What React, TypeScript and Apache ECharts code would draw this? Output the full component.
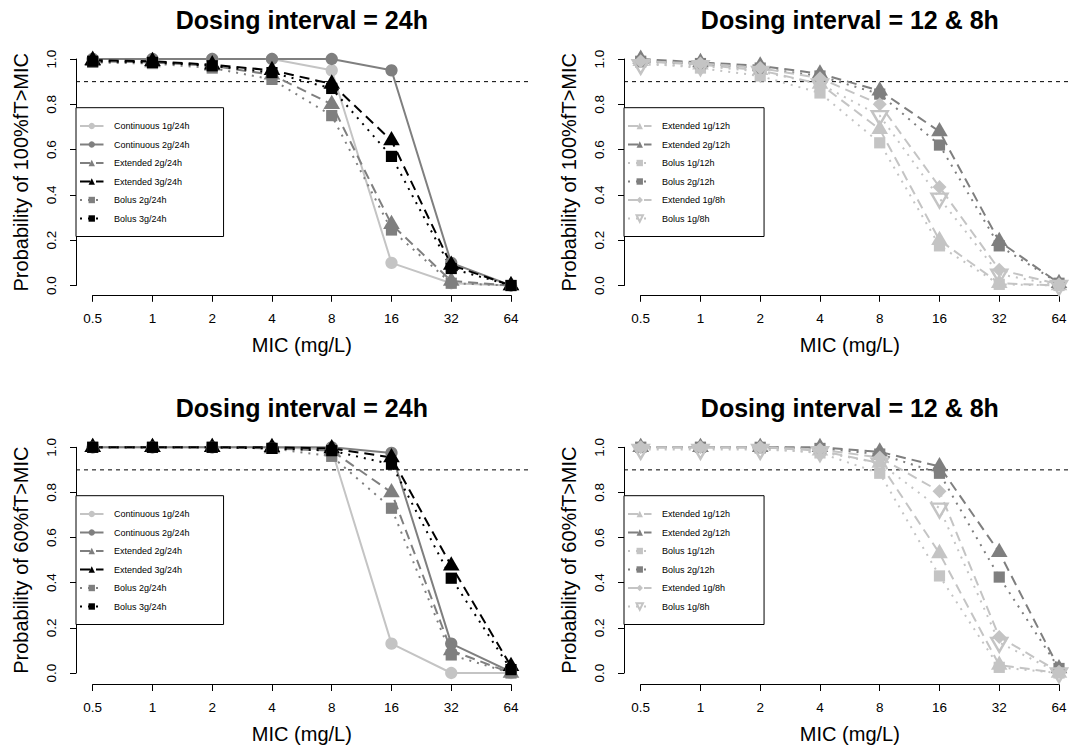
import React, { useEffect, useRef } from "react";
import * as echarts from "echarts";

// ---------- data ----------
const micLabels = ["0.5", "1", "2", "4", "8", "16", "32", "64"];
const target = 0.9;
const refExtent = [0, 1];

const names24 = [
  "Continuous 1g/24h",
  "Continuous 2g/24h",
  "Extended 2g/24h",
  "Extended 3g/24h",
  "Bolus 2g/24h",
  "Bolus 3g/24h",
];
const names12 = [
  "Extended 1g/12h",
  "Extended 2g/12h",
  "Bolus 1g/12h",
  "Bolus 2g/12h",
  "Extended 1g/8h",
  "Bolus 1g/8h",
];

// 100% fT>MIC, 24h
const p100_cont1g24 = [1.0, 1.0, 1.0, 1.0, 0.95, 0.1, 0.01, 0.0];
const p100_cont2g24 = [1.0, 1.0, 1.0, 1.0, 1.0, 0.95, 0.1, 0.0];
const p100_ext2g24 = [0.99, 0.985, 0.97, 0.93, 0.8, 0.27, 0.02, 0.0];
const p100_ext3g24 = [0.995, 0.99, 0.975, 0.95, 0.89, 0.64, 0.09, 0.0];
const p100_bol2g24 = [0.985, 0.98, 0.96, 0.91, 0.75, 0.245, 0.01, 0.0];
const p100_bol3g24 = [0.99, 0.985, 0.97, 0.94, 0.87, 0.57, 0.075, 0.0];

// 100% fT>MIC, 12h & 8h
const p100_ext1g12 = [0.99, 0.975, 0.95, 0.89, 0.69, 0.2, 0.01, 0.0];
const p100_ext2g12 = [1.0, 0.985, 0.97, 0.935, 0.86, 0.68, 0.195, 0.01];
const p100_bol1g12 = [0.985, 0.96, 0.925, 0.85, 0.63, 0.175, 0.005, 0.0];
const p100_bol2g12 = [0.99, 0.98, 0.96, 0.925, 0.845, 0.62, 0.175, 0.01];
const p100_ext1g8 = [0.99, 0.98, 0.96, 0.915, 0.8, 0.435, 0.07, 0.005];
const p100_bol1g8 = [0.975, 0.97, 0.945, 0.89, 0.75, 0.385, 0.05, 0.0];

// 60% fT>MIC, 24h
const p60_cont1g24 = [1.0, 1.0, 1.0, 1.0, 0.99, 0.13, 0.0, 0.0];
const p60_cont2g24 = [1.0, 1.0, 1.0, 1.0, 1.0, 0.975, 0.13, 0.005];
const p60_ext2g24 = [1.0, 1.0, 1.0, 0.995, 0.985, 0.8, 0.1, 0.0];
const p60_ext3g24 = [1.0, 1.0, 1.0, 1.0, 0.995, 0.955, 0.475, 0.03];
const p60_bol2g24 = [1.0, 1.0, 1.0, 0.995, 0.96, 0.73, 0.08, 0.0];
const p60_bol3g24 = [1.0, 1.0, 1.0, 0.995, 0.985, 0.925, 0.42, 0.015];

// 60% fT>MIC, 12h & 8h
const p60_ext1g12 = [1.0, 1.0, 1.0, 0.985, 0.93, 0.53, 0.035, 0.0];
const p60_ext2g12 = [1.0, 1.0, 1.0, 1.0, 0.98, 0.915, 0.535, 0.02];
const p60_bol1g12 = [1.0, 1.0, 0.995, 0.975, 0.885, 0.43, 0.025, 0.0];
const p60_bol2g12 = [1.0, 1.0, 1.0, 0.995, 0.97, 0.885, 0.425, 0.02];
const p60_ext1g8 = [1.0, 1.0, 1.0, 0.99, 0.955, 0.805, 0.16, 0.005];
const p60_bol1g8 = [0.99, 0.99, 0.99, 0.98, 0.93, 0.73, 0.135, 0.0];

// ---------- styles ----------
const FONT = "'Liberation Sans', Arial, Helvetica, sans-serif";
const LG = "#c4c4c4";
const MG = "#7f7f7f";
const BK = "#000000";
const SOLID: any = "solid";
const DASH = [10, 6];
const DOT = [2, 6];

const CIRC = { symbol: "circle", symbolSize: 12.3, symbolOffset: [0, 0] };
const SQ = { symbol: "rect", symbolSize: 11.2, symbolOffset: [0, 0] };
const TRI = { symbol: "triangle", symbolSize: [16.6, 14.3], symbolOffset: [0, -2.4] };
const INV = { symbol: "path://M0,0L10,0L5,8.66Z", symbolSize: [16, 13.8], symbolOffset: [0, 2.3] };
const DIA = { symbol: "diamond", symbolSize: [14, 14], symbolOffset: [0, 0] };

const styles24 = [
  { color: LG, mark: CIRC, dash: SOLID },
  { color: MG, mark: CIRC, dash: SOLID },
  { color: MG, mark: TRI, dash: DASH },
  { color: BK, mark: TRI, dash: DASH },
  { color: MG, mark: SQ, dash: DOT },
  { color: BK, mark: SQ, dash: DOT },
];
const styles12 = [
  { color: LG, mark: TRI, dash: DASH },
  { color: MG, mark: TRI, dash: DASH },
  { color: LG, mark: SQ, dash: DOT },
  { color: MG, mark: SQ, dash: DOT },
  { color: LG, mark: DIA, dash: DASH },
  { color: LG, mark: INV, dash: DOT, hollow: true },
];

// ---------- layout ----------
const COLS = [
  { dataLeft: 92.7, axisX: 76, plotRight: 528 },
  { dataLeft: 640.7, axisX: 624, plotRight: 1076 },
];
const DATA_W = 418.3;
const ROWS = [
  { top: 59, h: 226.5, xGap: 9.8, legendTop: 107.7, titleY: 20 },
  { top: 447.3, h: 225.7, xGap: 11.5, legendTop: 495.7, titleY: 408.3 },
];

const panels = [
  {
    row: 0, col: 0, title: "Dosing interval = 24h", yName: "Probability of 100%fT>MIC",
    names: names24, styles: styles24,
    series: [p100_cont1g24, p100_cont2g24, p100_ext2g24, p100_ext3g24, p100_bol2g24, p100_bol3g24],
  },
  {
    row: 0, col: 1, title: "Dosing interval = 12 & 8h", yName: "Probability of 100%fT>MIC",
    names: names12, styles: styles12,
    series: [p100_ext1g12, p100_ext2g12, p100_bol1g12, p100_bol2g12, p100_ext1g8, p100_bol1g8],
  },
  {
    row: 1, col: 0, title: "Dosing interval = 24h", yName: "Probability of 60%fT>MIC",
    names: names24, styles: styles24,
    series: [p60_cont1g24, p60_cont2g24, p60_ext2g24, p60_ext3g24, p60_bol2g24, p60_bol3g24],
  },
  {
    row: 1, col: 1, title: "Dosing interval = 12 & 8h", yName: "Probability of 60%fT>MIC",
    names: names12, styles: styles12,
    series: [p60_ext1g12, p60_ext2g12, p60_bol1g12, p60_bol2g12, p60_ext1g8, p60_bol1g8],
  },
];

function buildOption() {
  const grid: any[] = [];
  const xAxis: any[] = [];
  const yAxis: any[] = [];
  const series: any[] = [];
  const legend: any[] = [];
  const graphic: any[] = [];

  // data grids 0..3
  panels.forEach((p, i) => {
    const c = COLS[p.col];
    const r = ROWS[p.row];
    grid.push({ left: c.dataLeft, top: r.top, width: DATA_W, height: r.h, containLabel: false });
    xAxis.push({
      type: "category",
      gridIndex: i,
      data: micLabels,
      boundaryGap: false,
      offset: r.xGap,
      axisLine: { show: true, onZero: false, lineStyle: { color: "#000", width: 1 } },
      axisTick: { show: true, length: 6.5, lineStyle: { color: "#000", width: 1 } },
      axisLabel: { show: true, interval: 0, color: "#000", fontSize: 13.5, fontFamily: FONT, margin: 16 },
      splitLine: { show: false },
      name: "MIC (mg/L)",
      nameLocation: "middle",
      nameGap: 39.5,
      nameTextStyle: { color: "#000", fontSize: 20, fontFamily: FONT },
    });
    yAxis.push({
      type: "value",
      gridIndex: i,
      min: 0,
      max: 1,
      interval: 0.2,
      offset: c.dataLeft - c.axisX,
      axisLine: { show: true, lineStyle: { color: "#000", width: 1 } },
      axisTick: { show: true, length: 6, lineStyle: { color: "#000", width: 1 } },
      axisLabel: {
        show: true, rotate: 90, color: "#000", fontSize: 13.5, fontFamily: FONT, margin: 17.5,
        formatter: (v: number) => v.toFixed(1),
      },
      splitLine: { show: false },
      name: p.yName,
      nameLocation: "middle",
      nameRotate: 90,
      nameGap: 45,
      nameTextStyle: { color: "#000", fontSize: 20, fontFamily: FONT },
    });
  });

  // reference-line grids 4..7 (span full plot region)
  panels.forEach((p, i) => {
    const c = COLS[p.col];
    const r = ROWS[p.row];
    grid.push({ left: c.axisX, top: r.top, width: c.plotRight - c.axisX, height: r.h });
    xAxis.push({ type: "value", gridIndex: 4 + i, min: refExtent[0], max: refExtent[1], show: false });
    yAxis.push({ type: "value", gridIndex: 4 + i, min: 0, max: 1, show: false });
    series.push({
      type: "line",
      xAxisIndex: 4 + i,
      yAxisIndex: 4 + i,
      data: [
        [refExtent[0], target],
        [refExtent[1], target],
      ],
      symbol: "none",
      silent: true,
      clip: false,
      z: 1,
      lineStyle: { color: "#000", width: 1, type: [4, 4] },
      emphasis: { disabled: true },
    });
  });

  panels.forEach((p, i) => {
    const c = COLS[p.col];
    const r = ROWS[p.row];
    p.series.forEach((vals, k) => {
      const st: any = p.styles[k];
      series.push({
        type: "line",
        name: p.names[k],
        xAxisIndex: i,
        yAxisIndex: i,
        data: vals,
        symbol: st.mark.symbol,
        symbolSize: st.mark.symbolSize,
        symbolOffset: st.mark.symbolOffset,
        showSymbol: true,
        showAllSymbol: true,
        clip: false,
        silent: true,
        z: 2,
        lineStyle: { color: st.color, width: 2, type: st.dash },
        itemStyle: st.hollow
          ? { color: "rgba(255,255,255,0)", borderColor: st.color, borderWidth: 2.4 }
          : { color: st.color, borderWidth: 0 },
        emphasis: { disabled: true },
      });
    });
    legend.push({
      show: true,
      left: c.axisX,
      top: r.legendTop,
      orient: "vertical",
      data: p.names,
      selectedMode: false,
      itemWidth: 23.5,
      itemHeight: 8,
      itemGap: 8.5,
      padding: [13.3, 34, 13, 3],
      borderColor: "#000",
      borderWidth: 1,
      borderRadius: 0,
      backgroundColor: "#fff",
      textStyle: { color: "#000", fontSize: 9, fontFamily: FONT, lineHeight: 10, padding: [0, 0, 0, 5.5] },
    });
    graphic.push({
      type: "text",
      x: c.dataLeft + DATA_W / 2,
      y: r.titleY,
      silent: true,
      style: {
        text: p.title,
        font: `bold 25px ${FONT}`,
        textAlign: "center",
        textVerticalAlign: "middle",
        fill: "#000",
      },
    });
  });

  return {
    animation: false,
    backgroundColor: "#ffffff",
    textStyle: { fontFamily: FONT },
    grid,
    xAxis,
    yAxis,
    legend,
    series,
    graphic,
  };
}

export default function App() {
  const ref = useRef<HTMLDivElement>(null);
  useEffect(() => {
    if (!ref.current) return;
    const chart = echarts.init(ref.current, null, { renderer: "svg" });
    chart.setOption(buildOption() as any);
    return () => chart.dispose();
  }, []);
  return (
    <div
      ref={ref}
      style={{ position: "absolute", left: 0, top: 0, width: 1070, height: 751, background: "#fff" }}
    />
  );
}
